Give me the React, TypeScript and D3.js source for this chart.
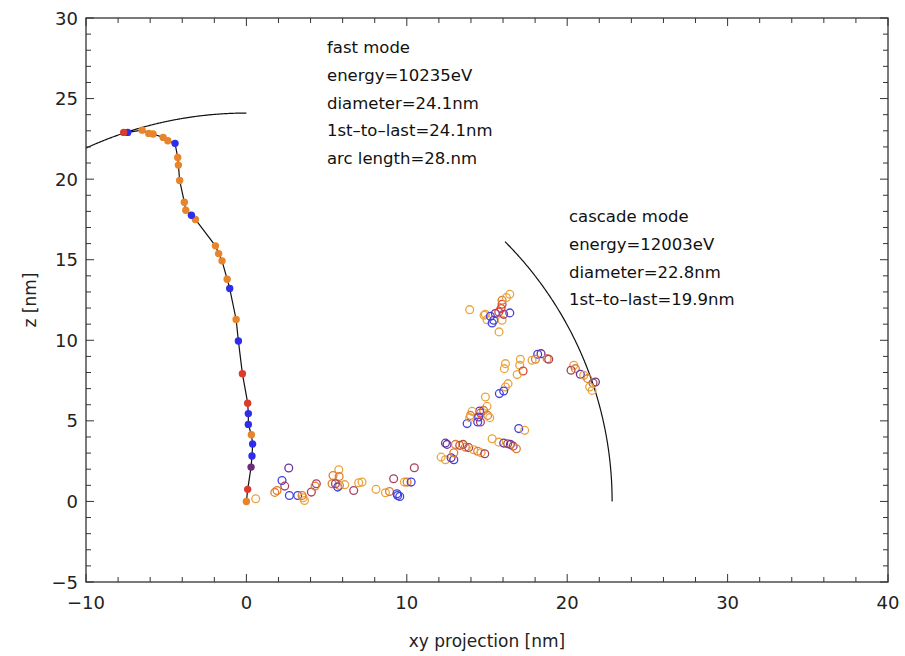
import React from "react";
import * as d3 from "d3";

// fast mode track (data coords, nm)
const fastX = [0.0, 0.08, 0.29, 0.35, 0.39, 0.31, 0.12, 0.12, 0.08, -0.25, -0.5, -0.64, -1.04, -1.2, -1.52, -1.73, -1.93, -3.18, -3.43, -3.78, -3.87, -4.16, -4.24, -4.28, -4.45, -4.9, -5.19, -5.82, -6.09, -6.5, -7.4, -7.65];
const fastZ = [0.0, 0.75, 2.13, 2.82, 3.56, 4.14, 4.78, 5.45, 6.1, 7.93, 9.96, 11.29, 13.21, 13.79, 14.93, 15.38, 15.86, 17.5, 17.76, 18.07, 18.57, 19.92, 20.87, 21.35, 22.22, 22.38, 22.59, 22.8, 22.84, 23.04, 22.9, 22.9];
const fastC = ["O", "R", "P", "B", "B", "O", "B", "B", "R", "R", "B", "O", "B", "O", "O", "O", "O", "O", "B", "O", "O", "O", "O", "O", "B", "O", "O", "O", "O", "O", "B", "R"];

// cascade mode points
const cascX = [0.58, 2.64, 2.22, 2.39, 1.77, 1.91, 2.68, 3.2, 3.53, 3.62, 3.47, 4.05, 4.36, 4.28, 5.76, 5.4, 5.78, 5.34, 5.8, 5.69, 5.55, 6.13, 7.0, 7.21, 6.69, 8.08, 8.67, 8.92, 9.39, 9.56, 9.43, 9.18, 9.85, 10.02, 10.27, 10.47,
  13.76, 14.42, 16.98, 17.35, 12.41, 12.51, 13.03, 13.3, 13.51, 13.65, 13.86, 14.17, 14.42, 14.63, 14.86, 12.14, 12.41, 12.76, 12.93, 12.93, 15.32, 15.73, 16.04, 16.29, 16.46, 16.63, 16.83,
  18.16, 18.37, 18.02, 17.81, 18.75, 18.85, 17.08, 17.04, 17.25, 16.88, 16.15, 16.08, 16.31, 16.15, 16.04, 15.77, 14.9, 15.0, 14.79, 14.54, 14.59, 14.07, 13.97, 15.04, 14.48, 15.17, 13.92, 14.59,
  13.92, 14.82, 15.0, 14.9, 15.21, 15.42, 15.32, 15.52, 15.73, 15.88, 15.94, 15.94, 16.21, 16.42, 16.42, 15.94, 16.04, 15.75,
  20.41, 20.24, 20.51, 20.82, 21.03, 21.28, 21.76, 21.61, 21.4, 21.55];
const cascZ = [0.17, 2.07, 1.3, 0.95, 0.56, 0.68, 0.37, 0.37, 0.23, 0.06, 0.37, 0.58, 1.1, 0.95, 1.97, 1.61, 1.55, 1.1, 0.99, 0.89, 1.1, 1.04, 1.16, 1.2, 0.68, 0.75, 0.54, 0.62, 0.48, 0.31, 0.37, 1.41, 1.2, 1.2, 1.2, 2.09,
  4.83, 4.93, 4.52, 4.41, 3.62, 3.54, 3.54, 3.48, 3.54, 3.37, 3.34, 3.21, 3.11, 3.02, 2.96, 2.75, 2.59, 2.71, 2.59, 3.02, 3.89, 3.68, 3.62, 3.58, 3.54, 3.43, 3.27,
  9.13, 9.17, 8.82, 8.76, 8.86, 8.82, 8.82, 8.45, 8.09, 7.87, 8.55, 8.24, 7.31, 7.1, 6.85, 6.69, 6.48, 5.9, 5.65, 5.61, 5.48, 5.59, 5.34, 5.34, 5.24, 5.2, 5.2, 4.93,
  11.9, 11.55, 11.28, 11.61, 11.49, 11.24, 11.07, 11.66, 11.76, 11.97, 12.24, 12.48, 12.65, 12.86, 11.7, 11.24, 11.61, 10.52,
  8.45, 8.14, 8.24, 7.89, 7.83, 7.62, 7.41, 7.35, 7.1, 6.89];
const cascC = ["L", "P", "B", "M", "O", "O", "B", "B", "L", "L", "O", "M", "M", "O", "L", "O", "O", "O", "O", "B", "M", "L", "L", "L", "M", "L", "L", "O", "B", "B", "B", "M", "L", "O", "B", "M",
  "B", "B", "B", "L", "P", "P", "O", "R", "N", "O", "M", "L", "O", "L", "M", "L", "L", "P", "B", "O", "L", "L", "P", "N", "P", "M", "O",
  "B", "P", "O", "L", "O", "M", "L", "L", "R", "L", "L", "L", "L", "L", "B", "B", "L", "L", "O", "P", "R", "L", "O", "O", "B", "L", "L", "M",
  "L", "L", "L", "L", "B", "B", "B", "P", "R", "R", "R", "O", "L", "L", "B", "L", "M", "L",
  "L", "M", "O", "P", "L", "O", "P", "N", "L", "L"];

const xTicks = [-10, 0, 10, 20, 30, 40];
const yTicks = [-5, 0, 5, 10, 15, 20, 25, 30];

const fastLabels = ["fast mode", "energy=10235eV", "diameter=24.1nm", "1st\u2013to\u2013last=24.1nm", "arc length=28.nm"];
const cascLabels = ["cascade mode", "energy=12003eV", "diameter=22.8nm", "1st\u2013to\u2013last=19.9nm"];
const fastRadius = 24.1;
const cascRadius = 22.8;

const fillCol: Record<string, string> = { O: "#e8852b", B: "#2d2deb", R: "#dc3c2c", P: "#6b2c7c" };
const openCol: Record<string, string> = { L: "#eaa43e", O: "#e07d2c", R: "#d9442b", B: "#4040e0", P: "#6a33a0", M: "#a8405e", N: "#a8552c" };

export default function App() {
  const L = 86, R = 888, T = 18, B = 582;
  const x = d3.scaleLinear().domain([-10, 40]).range([L, R]);
  const y = d3.scaleLinear().domain([-5, 30]).range([B, T]);
  const font = "DejaVu Sans, sans-serif";
  const frame = "#333";

  const xMinor = d3.range(-10, 40.01, 2);
  const yMinor = d3.range(-5, 30.01, 1);

  const line = d3.line<number>().x((i) => x(fastX[i])).y((i) => y(fastZ[i]));
  const arcPts = (r: number, a0: number, a1: number) =>
    d3.range(0, 201).map((k) => {
      const a = a0 + ((a1 - a0) * k) / 200;
      return [r * Math.cos(a), r * Math.sin(a)] as [number, number];
    });
  const arcLine = d3.line<[number, number]>().x((p) => x(p[0])).y((p) => y(p[1]));
  const fastArc = arcPts(fastRadius, Math.PI / 2, Math.PI - Math.asin(Math.sqrt(fastRadius * fastRadius - 100) / fastRadius));
  const cascArc = arcPts(cascRadius, 0, Math.PI / 4);

  return (
    <svg width={905} height={656} style={{ display: "block", position: "absolute", left: 0, top: 0 }}>
      <rect width={905} height={656} fill="#fff" />
      <defs>
        <clipPath id="pa"><rect x={L} y={T} width={R - L} height={B - T} /></clipPath>
      </defs>
      <g clipPath="url(#pa)">
        <path d={arcLine(fastArc) || ""} fill="none" stroke="#111" strokeWidth={1.2} />
        <path d={arcLine(cascArc) || ""} fill="none" stroke="#111" strokeWidth={1.2} />
        {cascX.map((v, i) => (
          <circle key={"c" + i} cx={x(v)} cy={y(cascZ[i])} r={3.9} fill="none" stroke={openCol[cascC[i]]} strokeWidth={1.3} />
        ))}
        <path d={line(d3.range(fastX.length)) || ""} fill="none" stroke="#111" strokeWidth={1.2} />
        {fastX.map((v, i) => (
          <circle key={"f" + i} cx={x(v)} cy={y(fastZ[i])} r={3.7} fill={fillCol[fastC[i]]} />
        ))}
      </g>
      {/* frame */}
      <rect x={L} y={T} width={R - L} height={B - T} fill="none" stroke={frame} strokeWidth={1.3} />
      {xMinor.map((v) => {
        const major = xTicks.includes(Math.round(v * 100) / 100);
        const len = major ? 8 : 5;
        return (
          <g key={"xt" + v}>
            <line x1={x(v)} x2={x(v)} y1={B} y2={B - len} stroke={frame} strokeWidth={1} />
            <line x1={x(v)} x2={x(v)} y1={T} y2={T + len} stroke={frame} strokeWidth={1} />
          </g>
        );
      })}
      {yMinor.map((v) => {
        const major = yTicks.includes(Math.round(v * 100) / 100);
        const len = major ? 8 : 5;
        return (
          <g key={"yt" + v}>
            <line x1={L} x2={L + len} y1={y(v)} y2={y(v)} stroke={frame} strokeWidth={1} />
            <line x1={R} x2={R - len} y1={y(v)} y2={y(v)} stroke={frame} strokeWidth={1} />
          </g>
        );
      })}
      {xTicks.map((v) => (
        <text key={"xl" + v} x={x(v)} y={609} textAnchor="middle" fontFamily={font} fontSize={18} fill="#222">
          {v < 0 ? "\u2212" + Math.abs(v) : v}
        </text>
      ))}
      {yTicks.map((v) => (
        <text key={"yl" + v} x={78} y={y(v) + 6.5} textAnchor="end" fontFamily={font} fontSize={18} fill="#222">
          {v < 0 ? "\u2212" + Math.abs(v) : v}
        </text>
      ))}
      <text x={(L + R) / 2} y={647} textAnchor="middle" fontFamily={font} fontSize={17} fill="#222">xy projection [nm]</text>
      <text transform={`translate(36,${(T + B) / 2}) rotate(-90)`} textAnchor="middle" fontFamily={font} fontSize={17} fill="#222">z [nm]</text>
      {fastLabels.map((s, i) => (
        <text key={"fl" + i} x={327} y={53 + i * 27.8} fontFamily={font} fontSize={16.5} fill="#111">{s}</text>
      ))}
      {cascLabels.map((s, i) => (
        <text key={"cl" + i} x={569} y={222 + i * 27.8} fontFamily={font} fontSize={16.5} fill="#111">{s}</text>
      ))}
    </svg>
  );
}
